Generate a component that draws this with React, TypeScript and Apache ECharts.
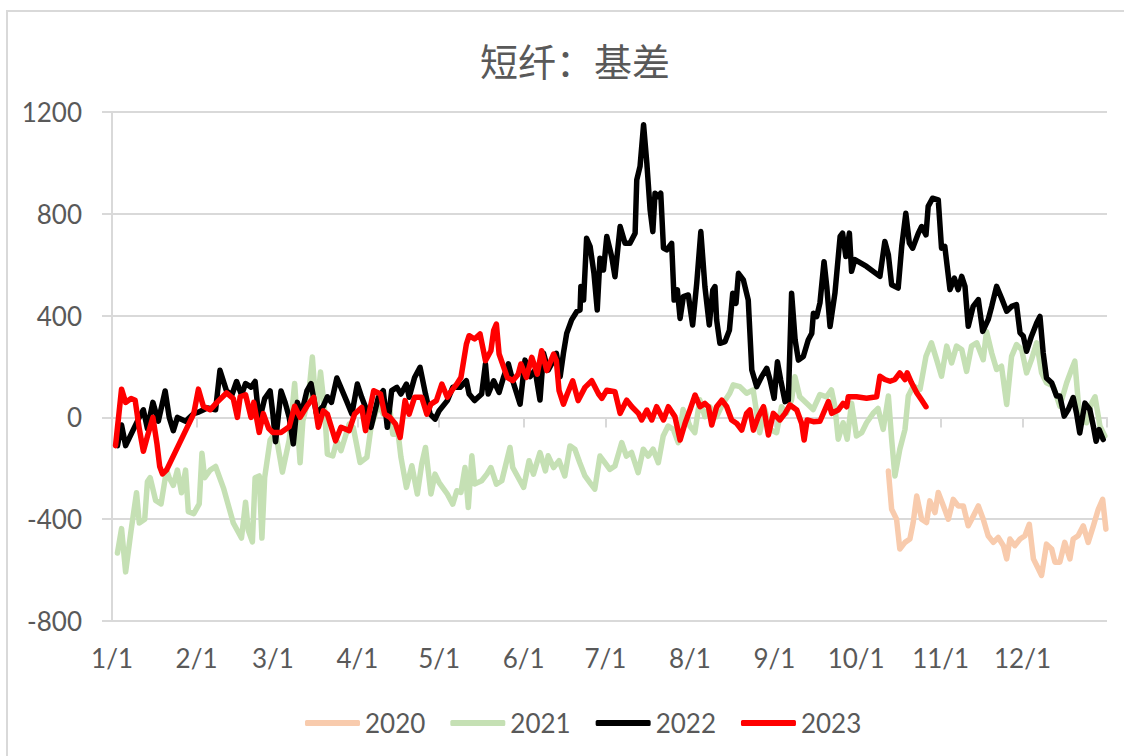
import React, { useEffect, useRef } from "react";
import * as echarts from "echarts";

// x = day of year (0 = 1/1), y = basis
const monthDays = [0, 31, 59, 90, 120, 151, 181, 212, 243, 273, 304, 334];
const monthLabels = ["1/1", "2/1", "3/1", "4/1", "5/1", "6/1", "7/1", "8/1", "9/1", "10/1", "11/1", "12/1"];
const yearEnd = 365;

const seriesNames = ["2020", "2021", "2022", "2023"];
const seriesColors = ["#F8CBAD", "#C5E0B4", "#000000", "#FF0000"];

const data2020 = [
  [284.8, -211], [286, -361], [287.8, -400], [289, -517], [290.9, -491], [292.7, -478], [293.9, -413], [295.2, -309],
  [297, -400], [298.8, -413], [300, -328], [301.9, -374], [303.1, -295], [305, -348], [306.8, -400], [308.6, -322],
  [310.4, -348], [312.3, -348], [314.1, -426], [316, -387], [317.8, -348], [319.6, -400], [321.4, -465], [323.3, -491],
  [325.1, -472], [327, -504], [328.2, -556], [329.4, -478], [331.2, -504], [333.1, -478], [334.9, -465], [336.5, -420],
  [338, -556], [339.8, -595], [341, -621], [342.8, -498], [344.7, -517], [345.9, -569], [347.7, -569], [349.5, -491],
  [351.4, -556], [352.6, -478], [354.4, -465], [356.3, -426], [358.1, -491], [360, -426], [361.8, -361], [363.4, -322],
  [364.6, -439],
];

const data2021 = [
  [2, -533], [3.5, -437], [5, -607], [7, -444], [9, -296], [10, -415], [12, -400], [13, -252], [14, -237], [16, -326],
  [18, -340], [20, -207], [21, -237], [22.5, -267], [24, -207], [25.5, -296], [27, -207], [28, -370], [30, -378],
  [32, -340], [33, -141], [34, -237], [36, -207], [38, -193], [41, -281], [44.5, -415], [47.5, -474], [49, -333],
  [50, -444], [51.5, -489], [52.5, -237], [54, -230], [55, -474], [56, -237], [58, -89], [60, -59], [62.5, -215],
  [65, -89], [67, 133], [69, -178], [70, -15], [72, 74], [73.5, 237], [75, 15], [76.5, 178], [78, 30],
  [79, -144], [81, -151], [82.5, -92], [84, -131], [87, -26], [88.5, -39], [91, -177], [93.5, -157], [95, -39],
  [97.7, 52], [99.5, 13], [102, 26], [103, -66], [105, -66], [106, -157], [108, -275], [110, -190], [112, -301],
  [113.6, -184], [115, -118], [117, -301], [118.5, -223], [120, -256], [123, -301], [125, -341], [126.5, -288],
  [128, -295], [129.5, -197], [130.7, -354], [132, -151], [133, -262], [135.6, -249], [137.5, -223], [139, -197],
  [141, -262], [143, -249], [146, -118], [147, -197], [149, -236], [151, -275], [153, -170], [154.6, -223], [157, -138],
  [159, -210], [160, -151], [162, -197], [164, -170], [166.1, -230], [168, -112], [169.8, -125], [171.6, -178],
  [173.5, -230], [175.3, -256], [177.1, -282], [179, -152], [180.8, -178], [182.6, -204], [184.5, -191], [187, -99],
  [188.7, -152], [190.6, -138], [193, -217], [194.9, -125], [196.7, -152], [198.5, -125], [200.4, -178], [202.2, -73],
  [204, -34], [205.9, -47], [207.7, -99], [209.5, 31], [212, -34], [213.8, -60], [215.6, 69], [217.5, 3], [219.3, 42],
  [221.8, 3], [224.2, 56], [226.6, 95], [227.9, 128], [230.3, 121], [232.8, 95], [235.2, 108], [237.6, -60],
  [239.5, 31], [241.3, -47], [243.8, -60], [245.6, 42], [247.4, 16], [249.3, 69], [250.5, 160], [252.3, 81],
  [254.8, 56], [257.2, 31], [259.7, 90], [262.1, 81], [263.9, 108], [265.2, 42], [266.4, -86], [268.2, -21],
  [269.7, -86], [271.3, 56], [273.1, -73], [275, -60], [276.8, -21], [279.2, 16], [281, 35], [282.9, -47],
  [284.8, 84], [286, -86], [287.2, -230], [289, -125], [290.9, -47], [292.1, 84], [293.9, 123], [296.4, 110],
  [298.6, 240], [300.6, 293], [302.5, 227], [304.3, 162], [306.2, 280], [308, 214], [309.8, 280], [311.7, 267],
  [313.5, 181], [315.3, 280], [317.2, 293], [319.6, 227], [320.8, 338], [322.7, 253], [324.5, 188], [326.3, 201],
  [328.2, 51], [330, 240], [331.8, 286], [333.7, 267], [335.5, 175], [337.3, 227], [339.2, 293], [341, 175],
  [342.8, 136], [345.3, 123], [347.7, 44], [350.2, 136], [352, 188], [353.2, 221], [355, -8], [357.5, -21],
  [359.3, 55], [360.6, 81], [362.4, -34], [364.2, -73],
];

const data2022 = [
  [2, -111], [3.5, -30], [5, -111], [8, -44], [10, 0], [11.5, 30], [13, -44], [15, 59], [17, -15], [19.5, 104],
  [21, 0], [22.5, -52], [24, 0], [27, -15], [30, 15], [32, 22], [35, 37], [38, 30], [39.6, 185], [42, 104], [44, 89],
  [45.7, 141], [47.5, 89], [49, 133], [51, 119], [52.5, 141], [54, -15], [56, 74], [58, 104], [59, 15], [60, -96],
  [62, 104], [63.5, 59], [65, 0], [66.5, -104], [68, 59], [69.5, 15], [71.5, 104], [73, 133], [75, 15], [77.5, 44],
  [79, 81], [80.5, 59], [82.5, 155], [86, 66], [88, 13], [90, 131], [91.6, 79], [93.5, 26], [95, -39], [97.7, 79],
  [99.5, 105], [101, -39], [102.6, 105], [104.5, 118], [106, 92], [108, 131], [109, 79], [111, 157], [113, 197],
  [115, 92], [116.7, 13], [118.5, -7], [120, 26], [123, 66], [125, 118], [127.7, 118], [130, 144], [131, 92],
  [133, 66], [135.6, 92], [137, 210], [138, 92], [140, 144], [142, 98], [143.6, 157], [145.4, 210], [147, 144],
  [149.7, 52], [151.5, 225], [153.4, 160], [155.2, 186], [157, 68], [158.3, 252], [160, 186], [162, 225], [163, 252],
  [164.4, 160], [165.6, 252], [166.8, 330], [168.6, 383], [170.5, 416], [171.7, 422], [172, 514], [173, 461],
  [174.1, 704], [175.4, 671], [176.8, 566], [178, 422], [179, 625], [180.3, 579], [181.5, 711], [183.3, 632],
  [184.5, 553], [186.4, 750], [188.2, 684], [190, 684], [191.9, 724], [192.5, 933], [193.7, 986], [195, 1150],
  [196.2, 999], [197.4, 815], [198.4, 730], [199.2, 881], [200.4, 868], [201.3, 881], [202.3, 665], [203.5, 658],
  [205.3, 684], [206.2, 461], [207.4, 501], [208.4, 389], [209.6, 475], [211.4, 481], [213, 363], [214.5, 527],
  [216, 730], [217.5, 514], [219.1, 363], [220.4, 501], [221.2, 514], [221.8, 383], [223, 291], [224.9, 298],
  [226.5, 343], [227.7, 488], [228.9, 448], [229.8, 566], [231.6, 540], [233.4, 461], [234.7, 186], [236.5, 121],
  [238.3, 160], [240.2, 193], [241.4, 147], [242.9, 75], [244.1, 219], [245.3, 147], [246.9, 62], [248.1, 68],
  [249.3, 488], [250.6, 304], [251.8, 225], [253.6, 239], [255.4, 304], [256.7, 330], [257.3, 409], [258.5, 396],
  [259.7, 450], [261.2, 612], [262.2, 514], [263.4, 357], [265.2, 488], [267.1, 711], [268, 724], [269.2, 632],
  [270.5, 724], [271.3, 574], [272.5, 620], [276.8, 593], [281.7, 554], [283.5, 691], [284.8, 639], [286, 521],
  [288.4, 508], [289.7, 672], [291.2, 802], [292.5, 685], [293.7, 665], [295.8, 724], [297, 750], [298.6, 717],
  [299.4, 829], [301, 861], [303.1, 855], [304.3, 665], [305.5, 672], [307.4, 502], [309, 547], [310.4, 502],
  [311.7, 554], [312.9, 515], [314.1, 358], [315.9, 436], [317.8, 463], [319.4, 338], [321.4, 384], [322.7, 436],
  [324.5, 515], [326.3, 469], [328.2, 417], [330, 436], [331.8, 443], [333.1, 332], [334.3, 319], [335.5, 260],
  [337.3, 319], [339.2, 371], [340.4, 397], [341.6, 253], [342.8, 155], [344.7, 136], [346.5, 84], [347.7, 84],
  [349.3, 5], [350.8, 31], [352.6, 78], [353.8, 18], [355, -61], [356.9, 56], [358.7, 31], [360, -35], [361, -94],
  [362.1, -48], [363.6, -87],
];

const data2023 = [
  [1.3, -111], [3.5, 111], [5, 59], [7, 74], [8.5, 67], [10, -44], [11.5, -133], [13, -74], [15, 0], [16.5, -104],
  [17.5, -193], [18.5, -222], [20, -207], [30, 15], [31.7, 111], [33.5, 44], [36, 30], [38.5, 59], [42, 96],
  [44.5, 74], [46, 0], [47, 81], [49, 89], [51, 0], [52, 59], [54, -59], [55.5, 15], [57.5, -44], [59, -59],
  [62, -59], [65, -37], [67, 44], [69, 0], [71.5, 44], [74, 79], [75.7, -39], [77.5, 26], [79, 13], [82, -92],
  [84, -39], [87, -52], [89, 13], [91.6, 39], [93, -52], [96, 105], [98.5, 92], [100, 13], [102, 0], [104, -26],
  [105.7, -79], [107.5, 66], [109, 13], [111, 79], [113.6, 79], [115.5, 13], [117, 52], [119, 66], [121, 131],
  [123, 79], [124.6, 105], [126.5, 131], [128, 157], [130, 288], [131, 321], [133, 308], [135, 328], [137, 223],
  [139, 262], [140, 341], [141, 367], [142, 249], [145, 157], [147, 144], [149, 170], [150, 210], [152, 157],
  [154, 236], [156, 170], [157.6, 262], [159.5, 184], [162, 249], [163, 223], [164, 105], [165.6, 52], [167, 92],
  [169, 144], [171, 66], [173.5, 118], [176, 144], [178.5, 92], [179.7, 75], [181.5, 107], [184.5, 101],
  [186.4, 16], [188.8, 68], [190.7, 42], [193.1, 16], [194.3, -10], [196.2, 29], [198, -10], [199.8, 42],
  [202.3, -10], [204.1, 42], [206.5, 3], [208.4, -89], [210.2, -24], [212, 29], [213.9, 88], [215.7, 42],
  [217.5, 55], [218.8, 42], [220, -30], [221.8, 42], [223.7, 68], [225.5, 42], [227.3, -10], [229.2, -24],
  [231, -50], [232.8, 16], [234, 29], [235.3, -50], [237.1, 3], [239, 42], [240.8, -69], [242.6, 16], [245, -10],
  [246.9, 16], [248.7, 49], [251.2, 29], [253, -24], [253.9, -89], [255, -10], [257.3, -17], [259.7, -15],
  [262.8, 62], [264, 16], [266.4, 29], [268.2, 55], [269.5, 42], [270.1, 81], [273.1, 81], [276.8, 75],
  [280.5, 81], [281.7, 162], [283.5, 149], [285.4, 142], [287.2, 149], [289, 175], [290.9, 149], [291.7, 175],
  [293.3, 136], [295.2, 97], [297, 68], [298.6, 42],
];

const seriesData = [data2020, data2021, data2022, data2023];

const TEXT = "#595959";
const GRID = "#d9d9d9";
const LATIN = "Lato, 'Open Sans', sans-serif";

export default function App() {
  const ref = useRef<HTMLDivElement>(null);

  useEffect(() => {
    if (!ref.current) return;
    const chart = echarts.init(ref.current, null, { renderer: "svg" });
    const option: any = {
      animation: false,
      backgroundColor: "#ffffff",
      title: {
        text: "短纤：基差",
        left: 570,
        top: 35,
        textAlign: "center",
        textStyle: {
          fontSize: 38,
          fontWeight: "normal",
          color: TEXT,
          fontFamily: "'Noto Sans CJK SC', sans-serif",
        },
      },
      legend: {
        left: 300,
        top: 705,
        icon: "roundRect",
        itemWidth: 55,
        itemHeight: 6,
        itemGap: 25,
        textStyle: { fontSize: 26, color: TEXT, fontFamily: LATIN },
        data: seriesNames,
      },
      graphic: [
        {
          type: "rect",
          shape: { x: 7, y: 11, width: 1300, height: 900 },
          style: { fill: "none", stroke: GRID, lineWidth: 2 },
          silent: true,
        },
      ],
      grid: { left: 112, right: 17, top: 112, bottom: 135 },
      xAxis: [
        {
          type: "value",
          min: 0,
          max: yearEnd,
          position: "bottom",
          axisLine: { show: false, onZero: false },
          axisTick: { show: false },
          splitLine: { show: false },
          axisLabel: {
            customValues: monthDays,
            formatter: (v: number) => {
              const i = monthDays.indexOf(Math.round(v));
              return i >= 0 ? monthLabels[i] : "";
            },
            fontSize: 26,
            color: TEXT,
            fontFamily: LATIN,
            margin: 24,
          },
        },
        {
          type: "value",
          min: 0,
          max: yearEnd,
          position: "top",
          axisLine: { show: true, onZero: true, lineStyle: { color: GRID, width: 2 } },
          axisTick: {
            show: true,
            inside: true,
            length: 10,
            customValues: [...monthDays, yearEnd],
            lineStyle: { color: GRID, width: 2 },
          },
          axisLabel: { show: false },
          splitLine: { show: false },
        },
      ],
      yAxis: {
        type: "value",
        min: -800,
        max: 1200,
        interval: 400,
        axisLine: { show: true, lineStyle: { color: GRID, width: 2 } },
        axisTick: { show: true, length: 10, lineStyle: { color: GRID, width: 2 } },
        axisLabel: {
          fontSize: 26,
          color: TEXT,
          fontFamily: LATIN,
          margin: 30,
          formatter: (v: number) => String(v),
        },
        splitLine: { show: true, lineStyle: { color: GRID, width: 2 } },
      },
      series: seriesNames.map((name, i) => ({
        name,
        type: "line",
        xAxisIndex: 0,
        data: seriesData[i],
        showSymbol: false,
        symbol: "none",
        lineStyle: { width: 5.5, color: seriesColors[i], cap: "round", join: "round" },
        itemStyle: { color: seriesColors[i] },
        z: 2 + i,
      })),
    };
    chart.setOption(option);
    return () => chart.dispose();
  }, []);

  return (
    <div
      ref={ref}
      style={{ position: "fixed", left: 0, top: 0, width: 1124, height: 756, background: "#fff" }}
    />
  );
}
